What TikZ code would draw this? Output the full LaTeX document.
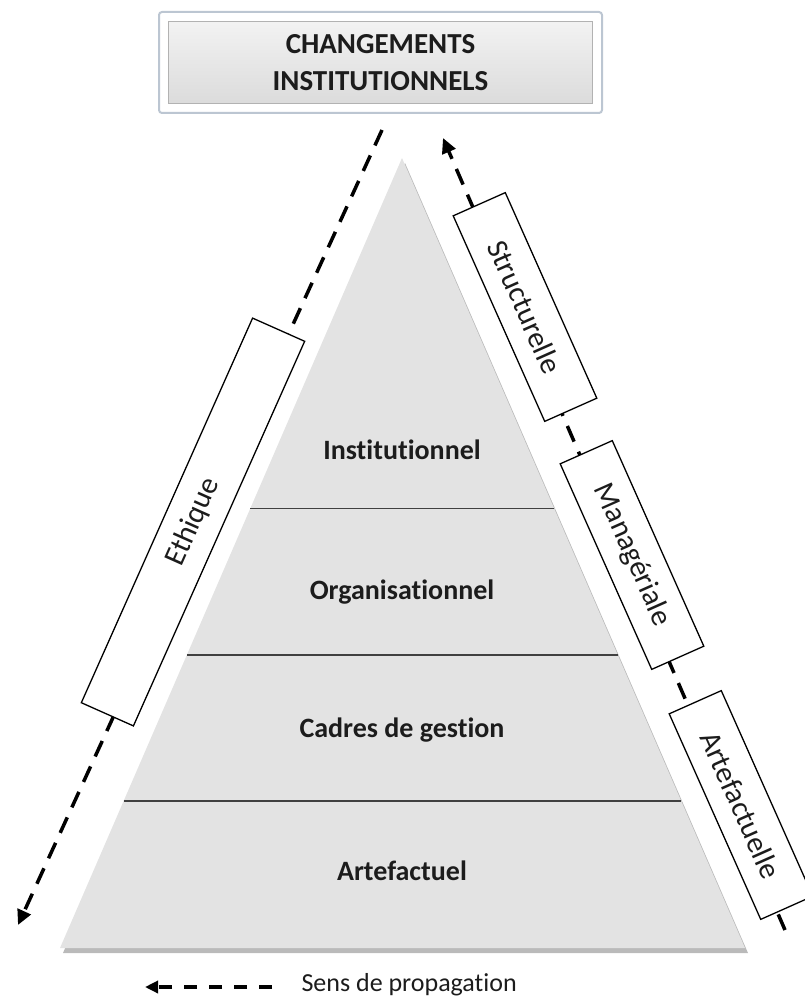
\documentclass[tikz,border=0pt]{standalone}
\usepackage{fontspec}
\setmainfont{Carlito}[Ligatures=NoCommon]
\usetikzlibrary{arrows.meta,calc,shadows}

\definecolor{pyrgray}{HTML}{E3E3E3}
\definecolor{framegray}{HTML}{BCC6D2}
\definecolor{inkblack}{HTML}{1C1C1C}

\begin{document}
\begin{tikzpicture}[x=1pt,y=-1pt,
        level/.style={font=\fontsize{28}{34}\selectfont\bfseries, text=inkblack},
        band/.style={draw, line width=1.3pt, fill=white, minimum height=57pt, inner sep=0pt,
            font=\fontsize{30}{36}\selectfont, text=inkblack},
        prop/.style={line width=3.5pt, dash pattern=on 17pt off 11pt, -{Triangle[length=15pt,width=14pt]}}]
        \useasboundingbox (0,0) rectangle (805,1003);

        % titre
        \node[draw=framegray, line width=2pt, rounded corners=3pt, fill=white,
            minimum width=443pt, minimum height=101pt] (frm) at (380.5,62.5) {};
        \node[top color=gray!10, bottom color=gray!28, draw=gray!60, minimum width=424pt,
            minimum height=82pt, align=center, text=inkblack,
            font=\fontsize{29}{37}\selectfont\bfseries] (chg) at (frm.center) {CHANGEMENTS\\INSTITUTIONNELS};

        % fleches de propagation
        \coordinate (ethtop) at (382,130);
        \coordinate (ethbot) at (18,925);
        \coordinate (strbot) at (785,930);
        \coordinate (strtop) at (443,138);
        \draw[prop] (ethtop) -- (ethbot);
        \draw[prop] (strbot) -- (strtop);

        % pyramide
        \coordinate (apex) at (402,158);
        \coordinate (bl) at (60,948);
        \coordinate (br) at (745,948);
        \fill[pyrgray, drop shadow={shadow xshift=3pt, shadow yshift=-5pt, fill=black!60, opacity=.45}]
            (bl) -- (br) -- (apex) -- cycle;
        \foreach \f in {0.186,0.371,0.556}
            \draw[line width=1.3pt, black!75] ($(bl)!\f!(apex)$) -- ($(br)!\f!(apex)$);

        \node[level] (inst) at (402,450) {Institutionnel};
        \node[level] (orga) at (402,592) {Organisationnel};
        \node[level] (cadr) at (402,730) {Cadres de gestion};
        \node[level] (arte) at (402,871) {Artefactuel};

        % dimensions
        \node[band, rotate=66, minimum width=421pt] (eth) at (193,522) {Ethique};
        \node[band, rotate=-66, minimum width=225pt] (str) at (525,307) {Structurelle};
        \node[band, rotate=-66, minimum width=225pt] (man) at (632,555) {Managériale};
        \node[band, rotate=-66, minimum width=225pt] (art) at (741,805) {Artefactuelle};

        % legende
        \coordinate (lgr) at (272,987);
        \coordinate (lgl) at (145,987);
        \draw[prop, dash pattern=on 13pt off 12pt, -{Triangle[length=13pt,width=12pt]}] (lgr) -- (lgl);
        \node[anchor=west, font=\fontsize{26}{31}\selectfont, text=inkblack] (lg) at (298,985) {Sens de propagation};
\end{tikzpicture}
\end{document}
